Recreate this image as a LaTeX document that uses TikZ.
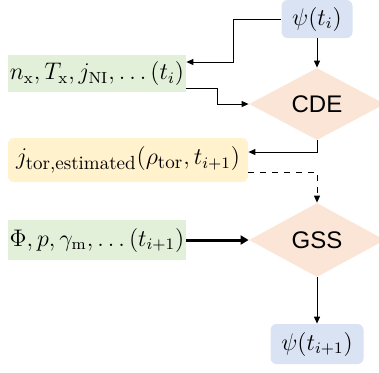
\documentclass[tikz,border=0pt]{standalone}
\usepackage{fontspec}
\newfontfamily\diafont{Liberation Sans}
\usetikzlibrary{shapes.geometric,arrows.meta,calc}
\definecolor{psiblue}{HTML}{DAE3F3}
\definecolor{ingreen}{HTML}{E2F0D9}
\definecolor{estyellow}{HTML}{FFF2CC}
\definecolor{solverpeach}{HTML}{FBE5D6}
\newcommand{\subtxt}[1]{\mbox{\fontsize{9.5}{11}\selectfont #1}}
\tikzset{
  mathtxt/.style={font=\fontsize{12}{14}\selectfont, inner sep=0pt},
  statebox/.style={mathtxt, fill=psiblue, rounded corners=3pt},
  inbox/.style={mathtxt, fill=ingreen},
  estbox/.style={mathtxt, fill=estyellow, rounded corners=3pt},
  solver/.style={diamond, fill=solverpeach, inner sep=0pt, font=\diafont\fontsize{12}{14}\selectfont},
  arr/.style={line width=0.5pt, -{Triangle[length=3.5pt,width=3pt]}},
  thickarr/.style={line width=1.5pt, -{Triangle[length=4pt,width=4.5pt]}},
}
\begin{document}
\begin{tikzpicture}[x=0.5pt,y=-0.5pt]
\useasboundingbox (0,0) rectangle (379,372);
\clip (0,0) rectangle (379,372);
% state and input boxes
\node[statebox, minimum width=35.5pt, minimum height=19pt] (psiA) at (317,19) {$\psi(t_i)$};
\node[inbox, minimum width=89pt, minimum height=18.5pt] (nx) at (97,73.5) {$n_\mathrm{x}, T_\mathrm{x}, j_\mathrm{NI}, \ldots (t_i)$};
\node[estbox, minimum width=120pt, minimum height=22pt] (jtor) at (128,160) {$j_{\subtxt{tor,estimated}}(\rho_{\subtxt{tor}}, t_{i+1})$};
\node[inbox, minimum width=89pt, minimum height=20pt] (phi) at (97,240) {$\Phi, p, \gamma_\mathrm{m}, \ldots (t_{i+1})$};
\node[statebox, minimum width=46.5pt, minimum height=20pt] (psiB) at (317,344) {$\psi(t_{i+1})$};
% solvers
\node[solver, minimum width=68pt, minimum height=36pt] (cde) at (317,104) {CDE};
\node[solver, minimum width=68pt, minimum height=37pt] (gss) at (317,240) {GSS};
% bend points
\coordinate (k1) at (233,62);
\coordinate (k2) at (217,88);
\coordinate (k3) at (317,152);
\coordinate (k4) at (317,172);
% connectors
\draw[arr] (psiA.west) -| (k1) -- (nx.east |- k1);
\draw[arr] (nx.east |- k2) -- (k2) |- (cde.west);
\draw[arr] (psiA.south) -- (cde.north);
\draw[arr] (cde.south) |- (jtor.east |- k3);
\draw[arr, dashed] (jtor.east |- k4) -| (gss.north);
\draw[thickarr] (phi.east) -- (gss.west);
\draw[arr] (gss.south) -- (psiB.north);
\end{tikzpicture}
\end{document}
